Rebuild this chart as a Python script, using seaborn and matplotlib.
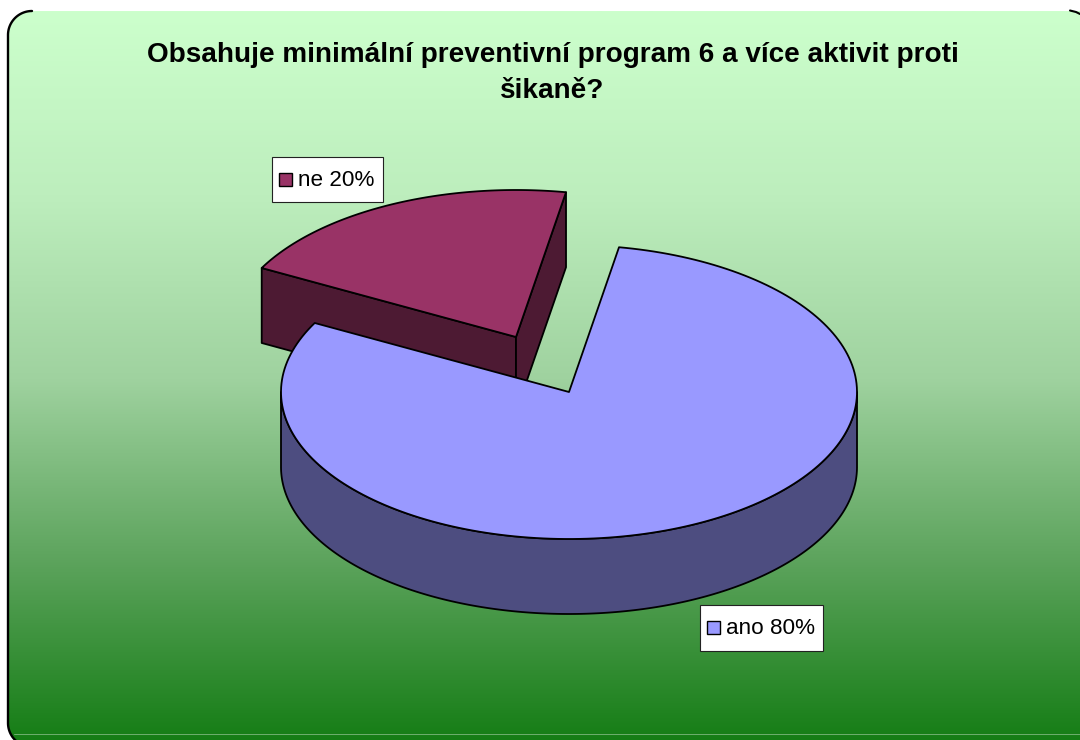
import numpy as np
import matplotlib
matplotlib.use("Agg")
import matplotlib.pyplot as plt
from matplotlib.patches import Polygon, Rectangle
import seaborn as sns

# data
labels = ["ano", "ne"]
values = [80, 20]
title = "Obsahuje minimální preventivní program 6 a více aktivit proti\nšikaně?"

top_colors = ["#9999FF", "#993366"]
side_colors = ["#4D4D80", "#4D1A33"]
gradient_stops = ["#CCFFCC", "#BDEEBD", "#9FD29F", "#5CA35C", "#137C13"]

# pie geometry in pixels
RX, RY, DEPTH = 288, 147, 75
START_ANGLE = 10
centers = [(569, 392), (516, 337)]
label_boxes = [(700, 605, 123, 46), (272, 157, 111, 45)]

# frame of the chart area in pixels
LEFT, TOP, RIGHT, BOTTOM, RADIUS = 8, 11, 1110, 747, 24

sns.set_theme(style="white")
plt.rcParams["font.family"] = ["Liberation Sans", "DejaVu Sans"]


def rim(center, a0, a1):
    # angles run clockwise from the top of the ellipse
    t = np.radians(np.linspace(a0, a1, 200))
    return center[0] + RX * np.sin(t), center[1] - RY * np.cos(t)


def corner(cx, cy, a0, a1):
    t = np.radians(np.linspace(a0, a1, 30))
    return np.c_[cx + RADIUS * np.sin(t), cy - RADIUS * np.cos(t)]


fig = plt.figure(figsize=(10.8, 7.4), dpi=100, facecolor="white")
ax = fig.add_axes([0, 0, 1, 1])
ax.axis("off")

# gradient background, clipped to the rounded frame
top_left = corner(LEFT + RADIUS, TOP + RADIUS, 270, 360)
top_right = corner(RIGHT - RADIUS, TOP + RADIUS, 0, 90)
bottom_right = corner(RIGHT - RADIUS, BOTTOM - RADIUS, 90, 180)
bottom_left = corner(LEFT + RADIUS, BOTTOM - RADIUS, 180, 270)
outline = np.vstack([top_left, top_right, bottom_right, bottom_left])

grad = np.array(sns.blend_palette(gradient_stops, n_colors=256))[:, None, :]
im = ax.imshow(grad, extent=(LEFT, RIGHT, BOTTOM, TOP), aspect="auto", zorder=1)
ax.set_xlim(0, 1080)
ax.set_ylim(740, 0)
clip = Polygon(outline, closed=True, facecolor="none", edgecolor="none")
ax.add_patch(clip)
im.set_clip_path(clip)
ax.plot([14, 1080], [734, 734], color="#6FAF6F", lw=0.7, zorder=1.5)

# only the left side of the frame and a stub at top right are drawn in black
left_side = np.vstack([bottom_left, top_left])
ax.plot(left_side[:, 0], left_side[:, 1], color="black", lw=1.7, zorder=2)
ax.plot([1070, 1076, 1080], [10.5, 12, 14], color="black", lw=1.5, zorder=2)

angles = START_ANGLE + np.cumsum([0] + values) / sum(values) * 360
line = dict(edgecolor="black", linewidth=1.3, joinstyle="round")

# exploded small slice goes first, the big one overlaps it
cx, cy = centers[1]
a0, a1 = angles[1], angles[2]
for a in (a0, a1):
    x, y = rim(centers[1], a, a)
    ax.fill([cx, x[0], x[0], cx], [cy, y[0], y[0] + DEPTH, cy + DEPTH],
            facecolor=side_colors[1], zorder=3, **line)
x, y = rim(centers[1], a0, a1)
ax.fill(np.r_[cx, x], np.r_[cy, y], facecolor=top_colors[1], zorder=4, **line)

cx, cy = centers[0]
a0, a1 = angles[0], angles[1]
x, y = rim(centers[0], 90, 270)
ax.fill(np.r_[x, x[::-1]], np.r_[y, y[::-1] + DEPTH], facecolor=side_colors[0], zorder=5, **line)
x, y = rim(centers[0], a0, a1)
ax.fill(np.r_[cx, x], np.r_[cy, y], facecolor=top_colors[0], zorder=6, **line)

# data labels
for i, (bx, by, bw, bh) in enumerate(label_boxes):
    ax.add_patch(Rectangle((bx, by), bw, bh, facecolor="white", edgecolor="#222222", lw=0.8, zorder=7))
    ax.add_patch(Rectangle((bx + 7, by + 16), 13, 13, facecolor=top_colors[i], edgecolor="black",
                           lw=1.0, zorder=8))
    ax.text(bx + 26, by + bh / 2 + 0.5, f"{labels[i]} {values[i]}%", fontsize=16.2, color="black",
            va="center", ha="left", zorder=8)

ax.text(552.5, 73, title, fontsize=20.1, fontweight="bold", color="black", ha="center", va="center",
        linespacing=1.47, zorder=8)

fig.savefig("out.png", dpi=100)
